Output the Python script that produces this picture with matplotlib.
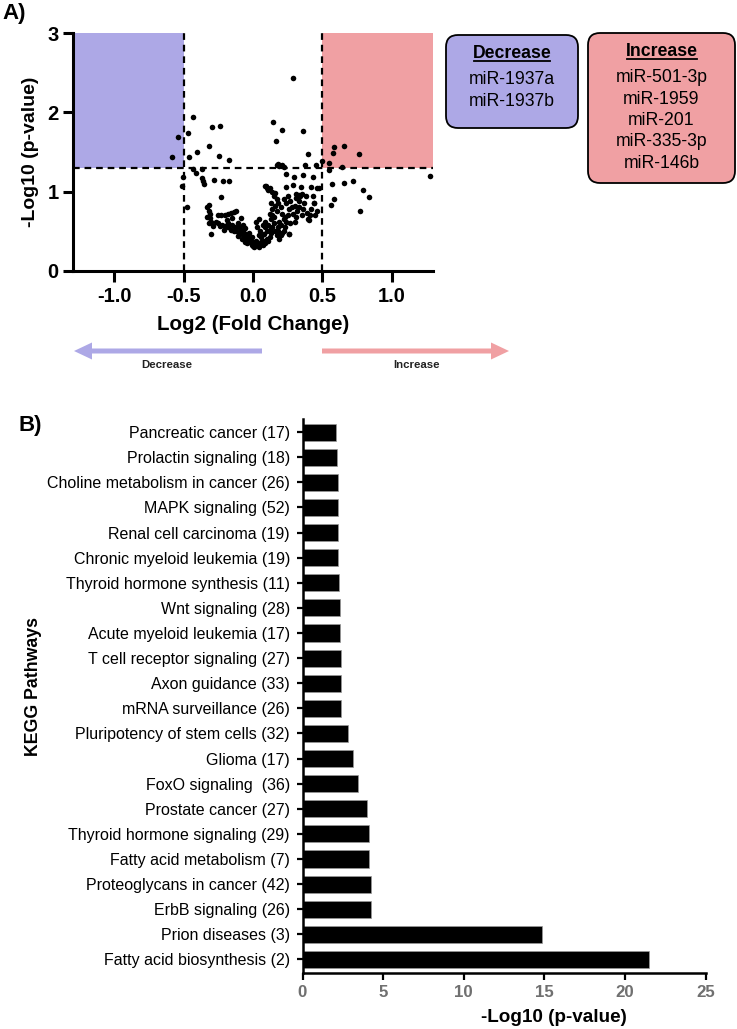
import matplotlib
matplotlib.use("Agg")
import matplotlib.pyplot as plt
from matplotlib.patches import FancyBboxPatch, FancyArrow
from matplotlib.lines import Line2D
from matplotlib.transforms import IdentityTransform

plt.rcParams["font.family"] = ["Liberation Sans", "DejaVu Sans"]
plt.rcParams["axes.unicode_minus"] = False

W, H = 737, 1029

# ---- panel A: volcano plot data (log2 fold change, -log10 p) ----
fc_cut = 0.5
p_cut = 1.3

scatter_x = [
    0.29, 0.147, 0.208, 0.361, 0.164, 0.40, 0.18, 0.19, 0.17, 0.21, 0.224, 0.376, 0.453, 0.50,
    0.241, 0.297, 0.357, 0.43, 0.092, 0.241, 0.289, 0.345, 0.417, 0.477, 0.309, 0.33, 0.35,
    0.441, 0.465, 0.405, 0.26,
    -0.434, -0.294, -0.239, -0.542, -0.47, -0.318, -0.402, -0.463, -0.583, -0.246, -0.174,
    -0.434, -0.414, -0.366, -0.366, -0.359, -0.355, -0.282, -0.217, -0.174, -0.503, -0.51,
    -0.234, -0.474, -0.318,
    0.545, 0.581, 0.574, 0.658, 0.767, 0.55, 0.641, 0.569, 0.658, 0.718, 0.795, 0.834, 0.581,
    0.562, 0.771, 1.273,
]
scatter_y = [
    2.43, 1.88, 1.78, 1.76, 1.64, 1.47, 1.35, 1.32, 1.33, 1.34, 1.31, 1.34, 1.33, 1.38,
    1.22, 1.19, 1.21, 1.19, 1.07, 1.06, 1.08, 1.06, 1.06, 1.05, 0.97, 0.96, 0.97,
    0.86, 0.75, 0.64, 0.46,
    1.94, 1.82, 1.83, 1.69, 1.74, 1.57, 1.50, 1.44, 1.44, 1.45, 1.40,
    1.29, 1.23, 1.29, 1.17, 1.13, 1.10, 1.14, 1.13, 1.13, 1.19, 1.07,
    0.93, 0.81, 0.83,
    1.36, 1.56, 1.49, 1.58, 1.47, 1.27, 1.31, 1.10, 1.11, 1.13, 1.02, 0.93, 0.90,
    0.83, 0.76, 1.20,
]
cluster_x = [
    -0.33, -0.32, -0.31, -0.33, -0.31, -0.30, -0.32, -0.29, -0.30, -0.27, -0.25, -0.23, -0.20,
    -0.18, -0.16, -0.14, -0.12, -0.09, -0.25, -0.22, -0.20, -0.18, -0.16, -0.14, -0.12, -0.13,
    -0.10, -0.10, -0.08, -0.07, -0.06, -0.05, -0.04, -0.03, -0.02, -0.01, 0.00, 0.01, 0.02,
    0.03, -0.04, -0.02, -0.08, -0.06, 0.00, 0.02, -0.15, -0.18, -0.11, -0.06, -0.03, -0.09,
    -0.01, 0.04, 0.05, 0.06, 0.07, 0.08, 0.09, 0.10, 0.11, 0.12, 0.06, 0.04, 0.08, 0.10, 0.12,
    0.05, 0.03, 0.07, 0.02, 0.04, 0.09, 0.11, 0.13, 0.14, 0.15, 0.13, 0.16, 0.17, 0.18, 0.19,
    0.15, 0.12, 0.14, 0.16, 0.13, 0.17, 0.15, 0.14, 0.09, 0.10, 0.11, 0.12, 0.16, 0.18, 0.20,
    0.21, 0.22, 0.20, 0.23, 0.21, 0.24, 0.25, 0.26, 0.24, 0.22, 0.25, 0.27, 0.28, 0.29, 0.27,
    0.26, 0.30, 0.31, 0.32, 0.30, 0.33, 0.31, 0.34, 0.33, 0.35, 0.36, 0.37, 0.38, 0.39, 0.40,
    0.41, 0.42, 0.44, 0.45, 0.43, 0.46, 0.19, 0.18, 0.20, 0.22,
    -0.24, -0.21, -0.19, -0.15, -0.11, -0.07, -0.05, 0.06, 0.09, 0.14, 0.17, 0.23,
]
cluster_y = [
    0.80, 0.76, 0.72, 0.68, 0.66, 0.62, 0.60, 0.57, 0.47, 0.62, 0.70, 0.70, 0.71,
    0.72, 0.73, 0.74, 0.75, 0.66, 0.60, 0.58, 0.56, 0.55, 0.52, 0.50, 0.50, 0.55,
    0.55, 0.48, 0.46, 0.50, 0.42, 0.40, 0.44, 0.38, 0.36, 0.33, 0.31, 0.30, 0.32,
    0.34, 0.35, 0.40, 0.40, 0.36, 0.36, 0.38, 0.58, 0.60, 0.60, 0.54, 0.48, 0.52,
    0.42, 0.30, 0.33, 0.36, 0.32, 0.38, 0.35, 0.40, 0.37, 0.43, 0.42, 0.45, 0.47, 0.50, 0.52,
    0.50, 0.55, 0.58, 0.62, 0.65, 0.62, 0.58, 0.48, 0.55, 0.60, 0.65, 0.50, 0.45, 0.55, 0.62,
    0.68, 0.72, 0.78, 0.82, 0.86, 0.90, 0.95, 1.00, 1.07, 1.04, 1.02, 1.05, 0.98, 0.86, 0.80,
    0.72, 0.65, 0.58, 0.55, 0.48, 0.62, 0.70, 0.78, 0.85, 0.90, 0.95, 0.88, 0.80, 0.72, 0.60,
    0.46, 0.62, 0.68, 0.75, 0.82, 0.88, 0.92, 0.95, 0.80, 0.70, 0.78, 0.85, 0.95, 0.73, 0.65,
    0.70, 0.78, 0.86, 0.70, 0.95, 1.04, 0.40, 0.50, 0.45, 0.50,
    0.56, 0.52, 0.64, 0.66, 0.44, 0.58, 0.47, 0.44, 0.55, 0.70, 0.75, 0.68,
]

decrease_mirs = ["miR-1937a", "miR-1937b"]
increase_mirs = ["miR-501-3p", "miR-1959", "miR-201", "miR-335-3p", "miR-146b"]

# ---- panel B: KEGG pathways ----
pathways = [
    "Pancreatic cancer (17)", "Prolactin signaling (18)", "Choline metabolism in cancer (26)",
    "MAPK signaling (52)", "Renal cell carcinoma (19)", "Chronic myeloid leukemia (19)",
    "Thyroid hormone synthesis (11)", "Wnt signaling (28)", "Acute myeloid leukemia (17)",
    "T cell receptor signaling (27)", "Axon guidance (33)", "mRNA surveillance (26)",
    "Pluripotency of stem cells (32)", "Glioma (17)", "FoxO signaling  (36)",
    "Prostate cancer (27)", "Thyroid hormone signaling (29)", "Fatty acid metabolism (7)",
    "Proteoglycans in cancer (42)", "ErbB signaling (26)", "Prion diseases (3)",
    "Fatty acid biosynthesis (2)",
]
neg_log_p = [
    2.05, 2.15, 2.18, 2.20, 2.21, 2.22, 2.26, 2.30, 2.35, 2.41, 2.41, 2.41,
    2.83, 3.15, 3.42, 3.99, 4.12, 4.12, 4.23, 4.23, 14.87, 21.49,
]

BLUE = "#ada8e6"
PINK = "#f0a0a3"


def fx(px):
    return px / W


def fy(py):
    return 1 - py / H


fig = plt.figure(figsize=(W / 100, H / 100), dpi=100)

# ---------------- volcano ----------------
ax = fig.add_axes([fx(72.7), fy(270.7), fx(433.3) - fx(72.7), fy(33.3) - fy(270.7)])
ax.set_xlim(-1.3, 1.3)
ax.set_ylim(0, 3)
ax.fill_between([-1.3, -fc_cut], p_cut, 3, color=BLUE, lw=0, zorder=0)
ax.fill_between([fc_cut, 1.3], p_cut, 3, color=PINK, lw=0, zorder=0)
for xv in (-fc_cut, fc_cut):
    ax.axvline(xv, color="black", lw=1.6, ls=(0, (3, 2.2)), zorder=1)
ax.axhline(p_cut, color="black", lw=1.6, ls=(0, (3, 2.2)), zorder=1)
ax.scatter(cluster_x + scatter_x, cluster_y + scatter_y, s=16, color="black", lw=0, zorder=3)
for side in ("top", "right"):
    ax.spines[side].set_visible(False)
for side in ("left", "bottom"):
    ax.spines[side].set_linewidth(2.2)
ax.set_xticks([-1.0, -0.5, 0.0, 0.5, 1.0])
ax.set_xticklabels(["-1.0", "-0.5", "0.0", "0.5", "1.0"])
ax.set_yticks([0, 1, 2, 3])
ax.tick_params(axis="both", width=2.2, labelsize=14.5, direction="out")
ax.tick_params(axis="x", length=8, pad=4)
ax.tick_params(axis="y", length=7, pad=3)
for lab in ax.get_xticklabels() + ax.get_yticklabels():
    lab.set_fontweight("bold")
ax.set_xlabel("Log2 (Fold Change)", fontsize=14.8, fontweight="bold", labelpad=6)
ax.set_ylabel("-Log10 (p-value)", fontsize=14, fontweight="bold", labelpad=6)

fig.text(fx(2), fy(14), "A)", fontsize=16, fontweight="bold", va="center", ha="left")

# legend boxes
boxes = [
    (446, 35, 578, 128, BLUE, "Decrease", decrease_mirs, 53, 80),
    (588, 33, 735, 183, PINK, "Increase", increase_mirs, 51, 78),
]
titles = []
for x0, y0, x1, y1, col, title, names, ty, ly in boxes:
    r = 12
    patch = FancyBboxPatch((x0 + r, H - y1 + r), (x1 - x0) - 2 * r, (y1 - y0) - 2 * r,
                           boxstyle=f"round,pad={r},rounding_size={r}",
                           transform=IdentityTransform(), facecolor=col,
                           edgecolor="black", lw=1.3)
    fig.add_artist(patch)
    cx = (x0 + x1) / 2
    t = fig.text(fx(cx), fy(ty), title, fontsize=12.7, fontweight="bold", ha="center", va="center")
    titles.append(t)
    for i, name in enumerate(names):
        fig.text(fx(cx), fy(ly + i * 21.3), name, fontsize=12.7, ha="center", va="center")

# arrows
arrow_y = H - 351
fig.add_artist(FancyArrow(262, arrow_y, 74 - 262, 0, width=5, head_width=17, head_length=18,
                          length_includes_head=True, transform=IdentityTransform(),
                          color=BLUE, lw=0))
fig.add_artist(FancyArrow(322, arrow_y, 509 - 322, 0, width=5, head_width=17, head_length=18,
                          length_includes_head=True, transform=IdentityTransform(),
                          color=PINK, lw=0))
fig.text(fx(167), fy(365), "Decrease", fontsize=8.2, fontweight="bold", ha="center", va="center",
         color="#222222")
fig.text(fx(416), fy(365), "Increase", fontsize=8.2, fontweight="bold", ha="center", va="center",
         color="#222222")

# ---------------- KEGG bars ----------------
bx = fig.add_axes([fx(302.5), fy(972.5), fx(705.5) - fx(302.5), fy(419) - fy(972.5)])
pos = list(range(len(pathways)))
bx.barh(pos, neg_log_p, height=0.68, color="black", edgecolor="#9a9a9a", lw=0.5)
bx.set_ylim(len(pathways) - 1 + 0.52, -0.52)
bx.set_xlim(0, 25)
bx.set_yticks(pos)
bx.set_yticklabels(pathways, fontsize=11.5)
bx.set_xticks([0, 5, 10, 15, 20, 25])
for side in ("top", "right"):
    bx.spines[side].set_visible(False)
for side in ("left", "bottom"):
    bx.spines[side].set_linewidth(1.8)
bx.tick_params(axis="y", length=4, width=1.6, pad=5)
bx.tick_params(axis="x", length=5, width=1.6, pad=4, labelsize=12.2, labelcolor="#707070")
for lab in bx.get_xticklabels():
    lab.set_fontweight("bold")
fig.text(fx(554), fy(1018), "-Log10 (p-value)", fontsize=13.6, fontweight="bold",
         ha="center", va="center")
fig.text(fx(33), fy(686), "KEGG Pathways", fontsize=12.8, fontweight="bold", rotation=90,
         ha="center", va="center")
fig.text(fx(18), fy(425), "B)", fontsize=16, fontweight="bold", ha="left", va="center")

# underline the box titles
fig.canvas.draw()
renderer = fig.canvas.get_renderer()
for t in titles:
    bb = t.get_window_extent(renderer)
    fig.add_artist(Line2D([bb.x0 + 1, bb.x1 - 1], [bb.y0 + 1, bb.y0 + 1], color="black", lw=1.3,
                          transform=IdentityTransform()))

fig.savefig("out.png", dpi=100)
